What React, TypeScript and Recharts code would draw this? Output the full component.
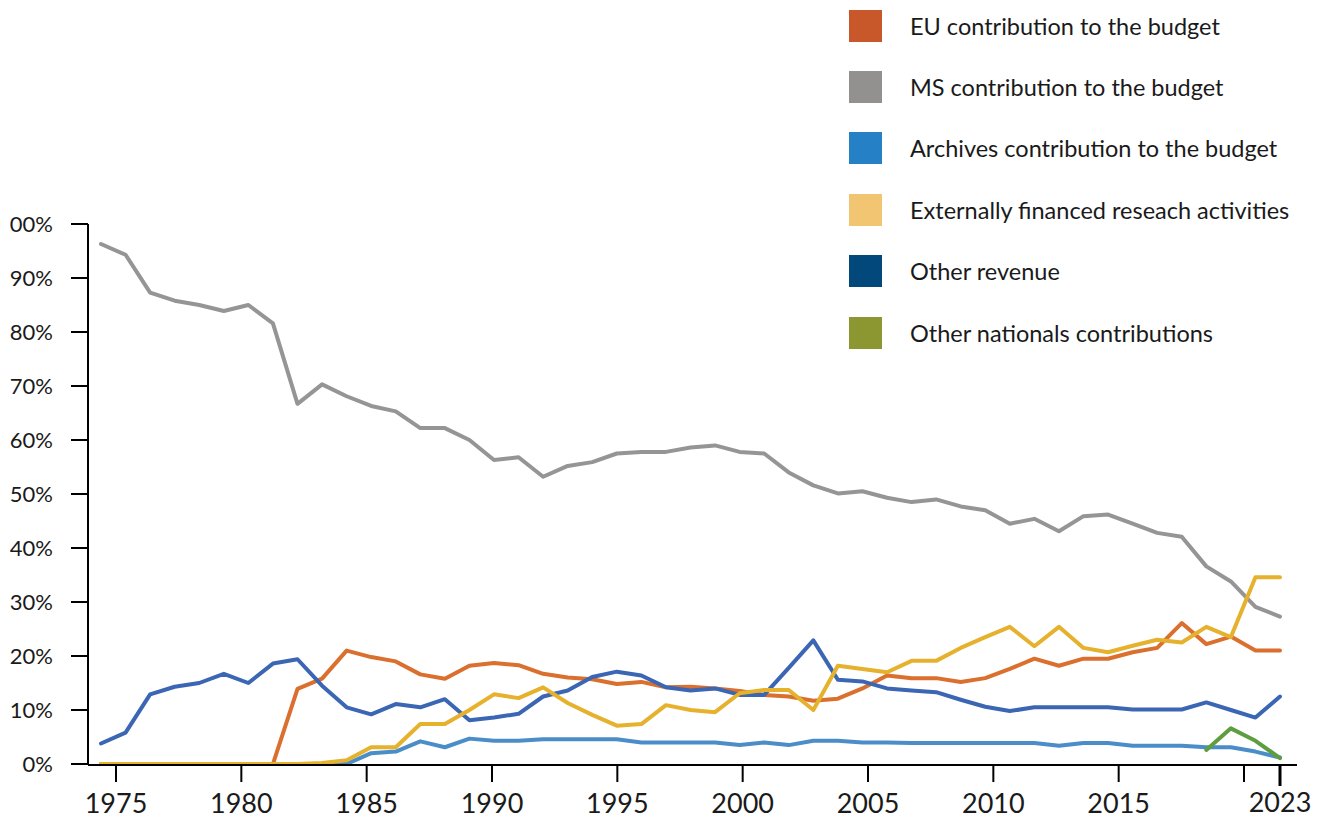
import { LineChart, Line, XAxis, YAxis, Legend } from "recharts";

const FONT = "Lato, 'Open Sans', sans-serif";

// one point per year (% of total revenue)
const years = [
  1975, 1976, 1977, 1978, 1979, 1980, 1981, 1982, 1983, 1984,
  1985, 1986, 1987, 1988, 1989, 1990, 1991, 1992, 1993, 1994,
  1995, 1996, 1997, 1998, 1999, 2000, 2001, 2002, 2003, 2004,
  2005, 2006, 2007, 2008, 2009, 2010, 2011, 2012, 2013, 2014,
  2015, 2016, 2017, 2018, 2019, 2020, 2021, 2022, 2023,
];

const euContribution = [
  0, 0, 0, 0, 0, 0, 0, 0, 13.9, 15.8,
  21.0, 19.8, 19.0, 16.6, 15.8, 18.2, 18.7, 18.3, 16.7, 16.0,
  15.7, 14.8, 15.2, 14.2, 14.3, 14.0, 13.5, 12.8, 12.5, 11.7,
  12.1, 14.0, 16.4, 15.9, 15.9, 15.2, 15.9, 17.6, 19.5, 18.2,
  19.5, 19.5, 20.7, 21.5, 26.1, 22.2, 23.6, 21.0, 21.0,
];

const msContribution = [
  96.3, 94.3, 87.3, 85.8, 85.0, 83.9, 85.0, 81.6, 66.7, 70.3,
  68.1, 66.3, 65.3, 62.2, 62.2, 60.0, 56.3, 56.8, 53.2, 55.2,
  55.9, 57.5, 57.8, 57.8, 58.6, 59.0, 57.8, 57.5, 54.0, 51.6,
  50.1, 50.5, 49.3, 48.5, 49.0, 47.7, 47.0, 44.5, 45.4, 43.1,
  45.9, 46.2, 44.5, 42.8, 42.1, 36.6, 33.8, 29.1, 27.3,
];

const archivesContribution = [
  0, 0, 0, 0, 0, 0, 0, 0, 0, 0,
  0, 2.0, 2.3, 4.2, 3.1, 4.7, 4.3, 4.3, 4.6, 4.6,
  4.6, 4.6, 4.0, 4.0, 4.0, 4.0, 3.5, 4.0, 3.5, 4.3,
  4.3, 4.0, 4.0, 3.9, 3.9, 3.9, 3.9, 3.9, 3.9, 3.4,
  3.9, 3.9, 3.4, 3.4, 3.4, 3.1, 3.1, 2.3, 1.2,
];

const externallyFinanced = [
  0, 0, 0, 0, 0, 0, 0, 0, 0, 0.2,
  0.7, 3.1, 3.1, 7.4, 7.4, 10.0, 12.9, 12.2, 14.2, 11.3,
  9.1, 7.1, 7.4, 10.9, 10.0, 9.6, 13.1, 13.7, 13.7, 10.0,
  18.2, 17.6, 17.0, 19.1, 19.1, 21.5, 23.5, 25.4, 21.8, 25.4,
  21.5, 20.7, 21.9, 23.0, 22.5, 25.4, 23.5, 34.6, 34.6,
];

const otherRevenue = [
  3.8, 5.8, 12.9, 14.3, 15.0, 16.7, 15.0, 18.6, 19.4, 14.5,
  10.5, 9.2, 11.1, 10.5, 12.0, 8.1, 8.6, 9.3, 12.5, 13.6,
  16.1, 17.1, 16.4, 14.2, 13.6, 14.0, 12.8, 12.8, 17.8, 22.9,
  15.6, 15.3, 14.0, 13.6, 13.3, 11.9, 10.6, 9.8, 10.5, 10.5,
  10.5, 10.5, 10.1, 10.1, 10.1, 11.4, 10.0, 8.6, 12.5,
];

const otherNationalsYears = [2020, 2021, 2022, 2023];
const otherNationals = [2.6, 6.6, 4.3, 1.1];

const yTicks = [0, 10, 20, 30, 40, 50, 60, 70, 80, 90, 100];
const yearTicks = [1975, 1980, 1985, 1990, 1995, 2000, 2005, 2010, 2015, 2020];
const lastYearTick = [2023];

const series = [
  { key: "eu", name: "EU contribution to the budget", line: "#DA6F2E", swatch: "#C8582A" },
  { key: "ms", name: "MS contribution to the budget", line: "#959595", swatch: "#93918F" },
  { key: "archives", name: "Archives contribution to the budget", line: "#4B8DC8", swatch: "#2680C5" },
  { key: "external", name: "Externally financed reseach activities", line: "#E6B12C", swatch: "#F1C572" },
  { key: "otherRevenue", name: "Other revenue", line: "#3B66B3", swatch: "#03487A" },
  { key: "otherNationals", name: "Other nationals contributions", line: "#5E9E3E", swatch: "#8C9731" },
];

// drawing order (last one on top)
const drawOrder = ["ms", "eu", "archives", "otherRevenue", "external", "otherNationals"];

const data = years.map((year, i) => {
  const n = otherNationalsYears.indexOf(year);
  return {
    year,
    eu: euContribution[i],
    ms: msContribution[i],
    archives: archivesContribution[i],
    external: externallyFinanced[i],
    otherRevenue: otherRevenue[i],
    otherNationals: n >= 0 ? otherNationals[n] : null,
  };
});

const renderLegend = () => (
  <div style={{ fontFamily: FONT, color: "#1a1a1a" }}>
    {series.map((s) => (
      <div key={s.key} style={{ display: "flex", alignItems: "center", height: 61.4 }}>
        <span style={{ display: "inline-block", width: 33, height: 32, background: s.swatch, marginRight: 28 }} />
        <span style={{ fontSize: 23.5, whiteSpace: "nowrap" }}>{s.name}</span>
      </div>
    ))}
  </div>
);

export default function App() {
  return (
    <div style={{ position: "absolute", left: 10, top: 0, width: 1313, height: 821, overflow: "hidden", background: "#fff" }}>
      <div style={{ marginLeft: -10 }}>
        <LineChart
          width={1323}
          height={821}
          data={data}
          margin={{ top: 224, right: 26, bottom: 0, left: 0 }}
        >
          <XAxis
            xAxisId="data"
            dataKey="year"
            type="number"
            domain={[1974.471, 2023.692]}
            allowDataOverflow
            ticks={lastYearTick}
            height={1}
            axisLine={false}
            tickLine={{ stroke: "#000", strokeWidth: 3 }}
            tickSize={22}
            tickMargin={7}
            tick={{ fontSize: 27, fill: "#1a1a1a", fontFamily: FONT }}
          />
          <XAxis
            xAxisId="years"
            dataKey="year"
            type="number"
            domain={[1973.883, 2022.114]}
            allowDataOverflow
            ticks={yearTicks}
            interval={0}
            tickFormatter={(v) => (v === 2020 ? "" : String(v))}
            height={56}
            axisLine={{ stroke: "#000", strokeWidth: 2 }}
            tickLine={{ stroke: "#000", strokeWidth: 2 }}
            tickSize={17}
            tickMargin={12}
            tick={{ fontSize: 27, fill: "#1a1a1a", fontFamily: FONT }}
          />
          <YAxis
            type="number"
            domain={[0, 100]}
            ticks={yTicks}
            interval={0}
            width={88}
            tickFormatter={(v) => `${v}%`}
            axisLine={{ stroke: "#000", strokeWidth: 2 }}
            tickLine={{ stroke: "#000", strokeWidth: 2 }}
            tickSize={17}
            tickMargin={18}
            tick={{ fontSize: 22, fill: "#1a1a1a", fontFamily: FONT }}
          />
          <Legend
            layout="vertical"
            align="center"
            verticalAlign="middle"
            wrapperStyle={{ position: "absolute", top: -5, left: 849, width: 470 }}
            content={renderLegend}
          />
          {drawOrder.map((key) => {
            const s = series.find((x) => x.key === key)!;
            return (
              <Line
                key={s.key}
                xAxisId="data"
                type="linear"
                dataKey={s.key}
                name={s.name}
                stroke={s.line}
                strokeWidth={4}
                strokeLinejoin="round"
                strokeLinecap="round"
                dot={false}
                activeDot={false}
                isAnimationActive={false}
              />
            );
          })}
        </LineChart>
      </div>
    </div>
  );
}
